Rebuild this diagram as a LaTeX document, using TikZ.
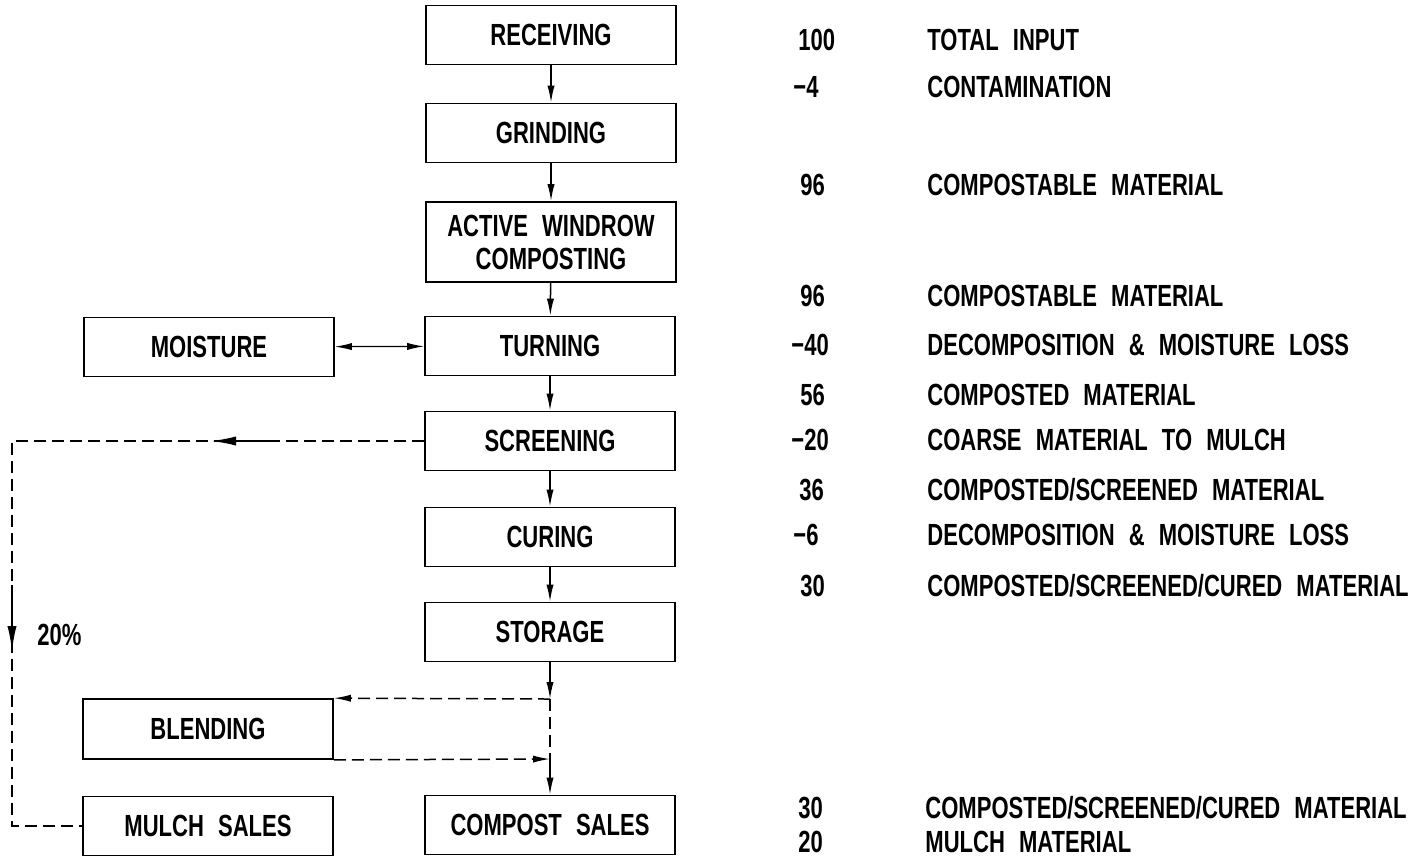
\documentclass[tikz,border=0pt]{standalone}
\usepackage{fontspec}
\setmainfont{Liberation Sans}[FakeStretch=0.72,WordSpace=2.3]
\usetikzlibrary{arrows.meta,calc}

\begin{document}
\begin{tikzpicture}[x=0.5pt,y=-0.5pt,
  txt/.style={font=\fontsize{15.3}{16.5}\selectfont\bfseries},
  box/.style={draw, line width=0.85pt, minimum width=125pt, minimum height=29.5pt,
    inner sep=0pt, align=center, txt},
  lbl/.style={anchor=west, inner sep=0pt, txt},
  tip/.style={-{Latex[length=8.5pt,width=3.6pt]}},
  bigtip/.style={-{Latex[length=13pt,width=4.6pt]}},
  flow/.style={line width=0.75pt, tip},
  dashline/.style={line width=0.75pt, dash pattern=on 6pt off 3pt},
]
\useasboundingbox (0,0) rectangle (1416,859);

% main process column
\node[box] (recv)   at (551,35)  {RECEIVING};
\node[box] (grind)  at (551,133) {GRINDING};
\node[box, minimum height=40pt] (active) at (551,242) {ACTIVE WINDROW\\COMPOSTING};
\node[box] (turn)   at (550,346) {TURNING};
\node[box] (screen) at (550,441) {SCREENING};
\node[box] (cure)   at (550,537) {CURING};
\node[box] (store)  at (550,632) {STORAGE};
\node[box] (csale)  at (550,825) {COMPOST SALES};

% side boxes
\node[box] (moist)  at (209,347) {MOISTURE};
\node[box, minimum height=30pt] (blend) at (208,729) {BLENDING};
\node[box] (mulch)  at (208,826) {MULCH SALES};

% main flow
\draw[flow] (recv) -- (grind);
\draw[flow] (grind) -- (active);
\draw[flow] (active) -- (turn);
\draw[flow] (turn) -- (screen);
\draw[flow] (screen) -- (cure);
\draw[flow] (cure) -- (store);

% moisture exchange
\draw[line width=0.6pt, {Latex[length=8.5pt,width=3.6pt]}-{Latex[length=8.5pt,width=3.6pt]}] (moist) -- (turn);

% coarse fraction to mulch
\coordinate (tl) at (12,441);
\coordinate (bl) at (12,826);
\draw[dashline] (screen.west) -- (tl) -- (bl) -- (mulch.west);
\draw[line width=1.2pt, bigtip] ($(tl)+(262,0)$) -- ($(tl)+(198,0)$);
\draw[line width=1.2pt, bigtip] ($(tl)+(0,144)$) -- ($(tl)+(0,211)$);
\node[lbl] (pct) at (37,635) {20\%};

% storage to blending and sales
\coordinate (j1) at (550,699);
\coordinate (j2) at (550,759);
\draw[flow] (store) -- (j1);
\draw[dashline] (j1) -- (j2);
\draw[flow] (j2) -- (csale);
\draw[dashline, tip] (j1) -- (blend.north east);
\draw[dashline, tip] (blend.south east) -- (j2);

% mass balance
\node[lbl] (n1)  at (798,40)  {100};
\node[lbl] (d1)  at (927,40)  {TOTAL INPUT};
\node[lbl] (n2)  at (793,87)  {−4};
\node[lbl] (d2)  at (927,87)  {CONTAMINATION};
\node[lbl] (n3)  at (800,185) {96};
\node[lbl] (d3)  at (927,185) {COMPOSTABLE MATERIAL};
\node[lbl] (n4)  at (800,296) {96};
\node[lbl] (d4)  at (927,296) {COMPOSTABLE MATERIAL};
\node[lbl] (n5)  at (791,345) {−40};
\node[lbl] (d5)  at (927,345) {DECOMPOSITION \& MOISTURE LOSS};
\node[lbl] (n6)  at (800,395) {56};
\node[lbl] (d6)  at (927,395) {COMPOSTED MATERIAL};
\node[lbl] (n7)  at (791,440) {−20};
\node[lbl] (d7)  at (927,440) {COARSE MATERIAL TO MULCH};
\node[lbl] (n8)  at (799,490) {36};
\node[lbl] (d8)  at (927,490) {COMPOSTED/SCREENED MATERIAL};
\node[lbl] (n9)  at (793,535) {−6};
\node[lbl] (d9)  at (927,535) {DECOMPOSITION \& MOISTURE LOSS};
\node[lbl] (n10) at (800,586) {30};
\node[lbl] (d10) at (927,586) {COMPOSTED/SCREENED/CURED MATERIAL};
\node[lbl] (n11) at (798,808) {30};
\node[lbl] (d11) at (925,808) {COMPOSTED/SCREENED/CURED MATERIAL};
\node[lbl] (n12) at (798,842) {20};
\node[lbl] (d12) at (925,842) {MULCH MATERIAL};
\end{tikzpicture}
\end{document}
